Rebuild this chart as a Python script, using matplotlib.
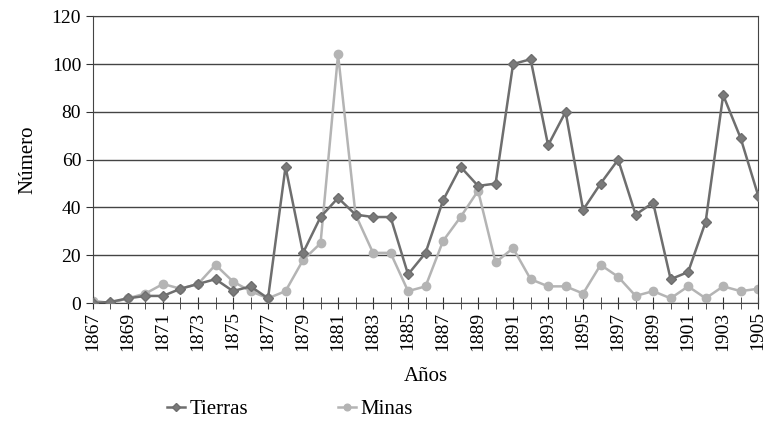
import numpy as np
import matplotlib
matplotlib.use("Agg")
import matplotlib.pyplot as plt

plt.rcParams['font.family'] = ['Liberation Serif', 'DejaVu Serif']

years = list(range(1867, 1906))
tierras = [0, 0.5, 2, 3, 3, 6, 8, 10, 5, 7, 2, 57, 21, 36, 44, 37, 36, 36, 12, 21,
           43, 57, 49, 50, 100, 102, 66, 80, 39, 50, 60, 37, 42, 10, 13, 34, 87, 69, 45]
minas = [1, 0, 2, 4, 8, 6, 8, 16, 9, 5, 2, 5, 18, 25, 104, 37, 21, 21, 5, 7,
         26, 36, 47, 17, 23, 10, 7, 7, 4, 16, 11, 3, 5, 2, 7, 2, 7, 5, 6]
label_years = years[::2]

fig = plt.figure(figsize=(7.78, 4.38), dpi=100)
ax = fig.add_axes([0.1195, 0.308, 0.855, 0.655])

ax.plot(years, tierras, "-D", color="#6e6e6e", mfc="#7a7a7a", mec="#6e6e6e",
        ms=5, lw=1.8, label="Tierras", zorder=3)
ax.plot(years, minas, "-o", color="#b4b4b4", mfc="#b4b4b4", mec="#b4b4b4",
        ms=6, lw=1.8, label="Minas", zorder=2)

ax.set_xlim(1867, 1905)
ax.set_ylim(0, 120)
ax.set_yticks(range(0, 121, 20))
ax.set_xticks(years, minor=True)
ax.set_xticks(label_years)
ax.set_xticklabels([str(y) for y in label_years], rotation=90, fontsize=14)
ax.tick_params(axis="x", which="both", direction="inout", length=8, color="#333", pad=2)
ax.tick_params(axis="y", direction="out", length=5, labelsize=14, color="#333")
ax.grid(True, axis="y", color="#444", lw=1)
ax.set_axisbelow(True)
for s in ["left", "right", "top", "bottom"]:
    ax.spines[s].set_color("#444")

ax.set_ylabel("Número", fontsize=15, labelpad=10)
ax.set_xlabel("Años", fontsize=15, labelpad=12)

fig.legend(loc="lower left", bbox_to_anchor=(0.19, 0.0), ncol=2, frameon=False,
           fontsize=15, columnspacing=4.3, handlelength=0.9, handletextpad=0.2,
           markerscale=0.8)

fig.savefig("out.png", dpi=100)
